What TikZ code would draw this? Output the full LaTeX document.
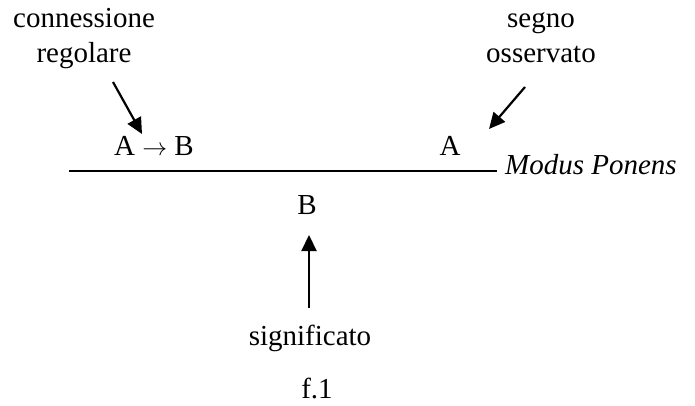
\documentclass[tikz,border=0pt]{standalone}
\usepackage{fontspec}
\setmainfont{Liberation Serif}
\usetikzlibrary{arrows.meta}
\begin{document}
\begin{tikzpicture}[x=1pt,y=-1pt,>={Triangle[length=16pt,width=15pt]},
  txt/.style={anchor=base,inner sep=0pt,font=\fontsize{29}{33}\selectfont},
  arr/.style={->,line width=2.2pt}]
	  \useasboundingbox (0,0) rectangle (695,405);
	  % labels on top
	  \node[txt] (conn) at (84,27) {connessione};
	  \node[txt] (reg) at (84,62) {regolare};
	  \node[txt] (segno) at (541,27) {segno};
	  \node[txt] (oss) at (541,62) {osservato};
	  % premises and conclusion
	  \node[txt] (impl) at (154,155) {A $\rightarrow$ B};
	  \node[txt] (obs) at (450,155) {A};
	  \node[txt] (concl) at (307,214) {B};
	  \node[txt,anchor=base west] (rule) at (505,174) {\itshape Modus Ponens};
	  \node[txt] (sig) at (310,345) {significato};
	  \node[txt] (fig) at (317,398) {f.1};
	  % inference line
	  \coordinate (lineL) at (69,171);
	  \coordinate (lineR) at (497,171);
	  \draw[line width=1.5pt] (lineL) -- (lineR);
	  % arrows
	  \coordinate (t1) at (113,82);
	  \coordinate (h1) at (142,134);
	  \coordinate (t2) at (525,87);
	  \coordinate (h2) at (489,129);
	  \coordinate (t3) at (309,308);
	  \coordinate (h3) at (309,235);
	  \draw[arr] (t1) -- (h1);
	  \draw[arr] (t2) -- (h2);
	  \draw[arr] (t3) -- (h3);
	\end{tikzpicture}
\end{document}
